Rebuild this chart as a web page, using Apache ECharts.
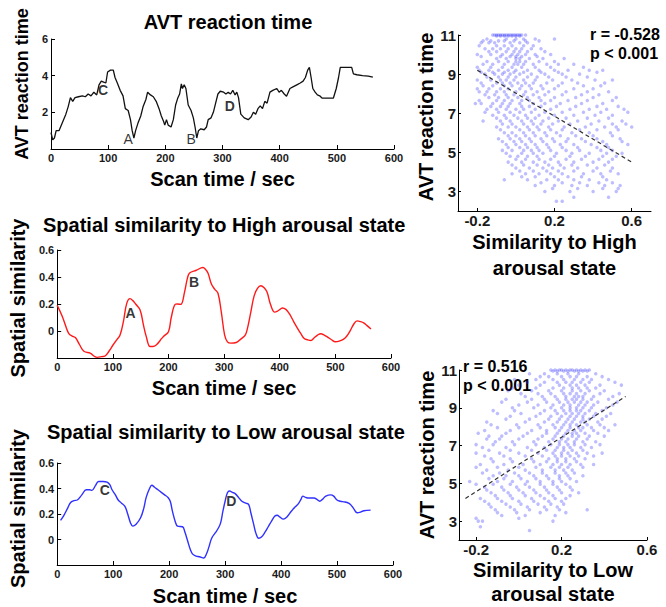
<!DOCTYPE html>
<html><head><meta charset="utf-8">
<script src="https://cdn.jsdelivr.net/npm/echarts@6/dist/echarts.min.js"></script>
<style>html,body{margin:0;padding:0;background:#fff}#c{width:666px;height:607px}</style>
</head><body><div id="c"></div>
<script>
// ---------- data ----------
const avtT = [0,3,6,9,14,18,22,26,30,34,38,42,48,55,60,65,70,75,80,84,88,92,96,99,104,109,112,116,121,126,130,135,139,142,145,148,152,157,161,166,169,174,179,184,189,193,197,199,202,205,210,214,218,222,225,228,230,233,236,240,245,249,252,255,258,262,268,272,275,280,284,288,292,296,302,306,310,314,318,322,325,328,332,338,345,350,354,358,362,366,370,374,378,383,388,395,399,403,408,412,418,424,430,436,441,445,449,452,455,458,462,466,470,474,480,494,499,503,506,526,529,535,545,555,563];
const avtV = [0.9,0.5,0.6,1.0,1.0,1.3,1.6,1.9,2.3,2.8,2.6,2.8,2.85,2.9,2.85,3.0,2.9,3.1,2.95,3.5,3.7,3.65,3.6,4.2,4.3,4.3,3.9,3.6,3.2,2.9,2.2,2.1,1.6,1.0,0.6,1.0,1.4,1.8,2.3,2.7,3.1,2.95,2.85,2.6,2.2,1.8,1.5,1.3,1.6,1.3,1.2,1.6,2.4,2.8,3.0,3.55,3.3,3.5,3.3,2.4,2.1,1.7,1.2,0.6,1.0,1.1,1.05,1.2,1.6,1.7,2.0,2.5,3.0,3.15,3.1,3.0,3.1,3.0,3.2,2.95,3.1,2.8,1.9,1.7,1.6,1.75,2.0,1.9,2.2,2.35,2.2,2.6,2.5,3.1,3.2,3.3,3.1,3.2,3.0,2.88,3.3,3.4,3.5,3.6,3.7,3.9,4.3,4.45,3.9,3.3,3.1,2.95,2.9,2.78,2.78,2.78,3.3,3.9,4.45,4.45,4.1,4.05,4.0,3.98,3.92];

const highT = [0,9,15,21,28,33,40,48,60,66,72,80,86,93,101,108,113,119,125,131,136,141,149,155,160,167,172,179,185,191,200,205,212,216,222,229,234,238,250,262,266,271,277,283,289,295,301,306,312,322,330,338,342,348,354,360,366,372,377,384,391,397,405,411,417,425,432,438,444,450,456,462,468,474,480,486,493,500,507,515,521,527,533,539,545,551,557,564];
const highV = [0.19,0.11,0.04,-0.02,-0.04,-0.05,-0.1,-0.15,-0.165,-0.185,-0.195,-0.19,-0.185,-0.15,-0.10,-0.06,-0.03,0.07,0.205,0.24,0.225,0.2,0.155,0.045,-0.04,-0.115,-0.115,-0.10,-0.07,-0.04,-0.005,0.1,0.197,0.2,0.197,0.29,0.39,0.43,0.45,0.47,0.46,0.43,0.35,0.31,0.28,0.14,-0.03,-0.08,-0.09,-0.085,-0.06,-0.03,0.02,0.14,0.26,0.315,0.335,0.32,0.29,0.19,0.14,0.15,0.17,0.16,0.13,0.07,0.02,-0.02,-0.055,-0.065,-0.07,-0.05,-0.03,-0.02,-0.03,-0.045,-0.065,-0.08,-0.075,-0.06,-0.035,0.005,0.05,0.075,0.07,0.06,0.04,0.015];

const lowT = [6,12,18,24,30,36,44,52,58,62,68,74,82,89,94,98,104,109,115,121,126,131,135,141,149,155,159,165,169,174,180,186,192,198,202,206,211,215,224,228,233,238,242,248,254,262,267,271,276,283,288,292,296,300,304,308,313,318,324,330,337,342,346,351,355,360,365,371,377,383,389,393,398,404,410,418,425,430,435,439,444,450,459,464,469,474,480,489,494,500,506,512,518,524,530,536,542,548,560];
const lowV = [0.15,0.19,0.24,0.29,0.305,0.31,0.35,0.39,0.39,0.385,0.42,0.455,0.455,0.45,0.43,0.39,0.35,0.31,0.285,0.26,0.2,0.13,0.105,0.12,0.17,0.25,0.33,0.4,0.425,0.41,0.39,0.37,0.35,0.33,0.3,0.22,0.14,0.105,0.10,0.06,-0.01,-0.08,-0.115,-0.13,-0.135,-0.145,-0.11,-0.06,0.01,0.055,0.09,0.13,0.22,0.3,0.365,0.38,0.37,0.36,0.33,0.3,0.285,0.275,0.21,0.12,0.05,0.01,0.02,0.055,0.1,0.145,0.185,0.19,0.175,0.16,0.175,0.22,0.255,0.275,0.31,0.34,0.33,0.325,0.325,0.315,0.3,0.315,0.34,0.35,0.34,0.31,0.3,0.295,0.29,0.275,0.24,0.21,0.215,0.225,0.23];

const avtLetters = [['C',91,3.2],['A',135,0.55],['B',245,0.55],['D',313,2.35]];
const highLetters = [['A',132,0.135],['B',246,0.365]];
const lowLetters = [['C',85,0.39],['D',311,0.3]];

// scatter: reaction time rows (y) with similarity values (x) along each row
const scHighY = [11.0,10.95,10.8,10.7,10.6,10.45,10.3,10.15,10.0,9.9,9.8,9.65,9.5,9.35,9.2,9.1,9.0,8.85,8.7,8.55,8.4,8.25,8.1,7.95,7.8,7.65,7.5,7.35,7.2,7.05,6.9,6.75,6.6,6.45,6.3,6.15,6.0,5.85,5.7,5.55,5.4,5.25,5.1,4.95,4.8,4.65,4.5,4.35,4.2,4.05,3.9,3.75,3.6,3.45,3.3,3.15,3.0,2.7,2.5];
const scHighX = [
 [-0.12,-0.11,-0.1,-0.09,-0.08,-0.07,-0.06,-0.05,-0.04,-0.03,-0.02,-0.01,0.0,0.01,0.02,0.03,0.05],
 [-0.1,-0.08,-0.06,-0.04,-0.02,0.0,0.02],
 [-0.15,-0.05,0.0,0.04,0.1,0.2],
 [-0.17,-0.13,-0.09,-0.06,-0.01,0.05,0.12],
 [-0.18,-0.14,-0.11,-0.03,0.02,0.06],
 [-0.19,-0.1,-0.06,-0.02,0.04,0.09],
 [-0.16,-0.12,-0.08,-0.04,0.0,0.03,0.08,0.13],
 [-0.14,-0.1,-0.05,-0.01,0.02,0.06,0.15],
 [-0.2,-0.13,-0.07,-0.02,0.01,0.05,0.1,0.18],
 [-0.18,-0.08,-0.03,0.0,0.03,0.11],
 [-0.1,-0.05,0.0,0.02,0.07,0.14,0.25],
 [-0.15,-0.09,-0.04,0.0,0.02,0.05,0.12,0.2],
 [-0.17,-0.12,-0.06,-0.01,0.01,0.04,0.09,0.16,0.22,0.3],
 [-0.2,-0.13,-0.07,-0.02,0.03,0.1,0.18,0.35],
 [-0.19,-0.14,-0.09,-0.04,0.0,0.06,0.12,0.2,0.27,0.38,0.45],
 [-0.18,-0.12,-0.06,-0.01,0.04,0.13,0.22,0.42],
 [-0.16,-0.11,-0.07,-0.03,0.02,0.08,0.15,0.24,0.33],
 [-0.15,-0.09,-0.04,0.0,0.06,0.11,0.17,0.26,0.37],
 [-0.2,-0.13,-0.08,-0.05,-0.01,0.04,0.1,0.19,0.29,0.41,0.5],
 [-0.18,-0.1,-0.07,-0.03,0.01,0.05,0.09,0.16,0.24,0.32,0.46],
 [-0.17,-0.12,-0.06,-0.02,0.03,0.07,0.13,0.22,0.35,0.44],
 [-0.2,-0.14,-0.08,-0.04,0.02,0.08,0.14,0.2,0.3,0.4],
 [-0.19,-0.15,-0.1,-0.06,0.0,0.05,0.11,0.17,0.26,0.37,0.48],
 [-0.16,-0.11,-0.05,-0.01,0.04,0.09,0.15,0.24,0.34,0.43],
 [-0.14,-0.09,-0.04,0.01,0.06,0.12,0.2,0.31,0.4,0.52],
 [-0.19,-0.1,-0.06,-0.02,0.03,0.07,0.13,0.18,0.27,0.37,0.5],
 [-0.21,-0.18,-0.12,-0.07,-0.03,0.02,0.09,0.15,0.23,0.34,0.45],
 [-0.13,-0.08,-0.04,0.03,0.07,0.13,0.21,0.31,0.42,0.53],
 [-0.15,-0.1,-0.05,0.0,0.04,0.1,0.18,0.28,0.38,0.47,0.56],
 [-0.16,-0.09,-0.03,0.02,0.08,0.15,0.24,0.35,0.44,0.58],
 [-0.12,-0.06,-0.01,0.05,0.12,0.2,0.3,0.41,0.5],
 [-0.1,-0.05,0.01,0.06,0.1,0.17,0.26,0.37,0.48],
 [-0.17,-0.08,-0.03,0.03,0.08,0.14,0.22,0.32,0.43,0.55],
 [-0.07,-0.02,0.04,0.09,0.13,0.19,0.28,0.39,0.5,0.57],
 [-0.1,-0.04,0.0,0.06,0.11,0.17,0.25,0.36,0.46,0.52,0.6],
 [-0.08,0.02,0.07,0.12,0.18,0.24,0.33,0.42,0.53],
 [-0.06,-0.02,0.04,0.09,0.15,0.21,0.29,0.38,0.49],
 [-0.04,0.0,0.05,0.1,0.16,0.23,0.31,0.4,0.5],
 [-0.09,-0.03,0.02,0.07,0.13,0.19,0.27,0.34,0.42,0.54],
 [-0.07,-0.01,0.03,0.08,0.14,0.2,0.26,0.36,0.45,0.55],
 [-0.05,0.0,0.05,0.1,0.16,0.23,0.3,0.39,0.47,0.58],
 [-0.04,0.02,0.06,0.11,0.17,0.24,0.32,0.42,0.48],
 [-0.07,-0.02,0.04,0.08,0.12,0.18,0.26,0.33,0.44,0.5],
 [-0.05,0.03,0.09,0.14,0.21,0.29,0.38,0.47,0.55],
 [-0.03,0.01,0.06,0.11,0.2,0.28,0.36,0.45,0.52],
 [0.0,0.05,0.12,0.18,0.26,0.34,0.43,0.5],
 [-0.04,0.03,0.09,0.15,0.22,0.3,0.4,0.48],
 [-0.02,0.04,0.11,0.17,0.23,0.29,0.37,0.46],
 [0.0,0.07,0.14,0.19,0.25,0.32,0.42,0.5],
 [0.02,0.09,0.16,0.22,0.3,0.4,0.49],
 [-0.02,0.05,0.12,0.18,0.24,0.35,0.44,0.53],
 [0.03,0.1,0.2,0.27,0.34,0.45],
 [-0.06,0.06,0.16,0.22,0.3,0.38,0.47],
 [0.13,0.24,0.33,0.43,0.5],
 [0.1,0.2,0.29,0.37,0.46,0.54],
 [0.19,0.32,0.45,0.53],
 [0.15,0.28,0.4,0.52],
 [0.3,0.48],
 [0.21,0.24]
];
const scLowY = [11.0,10.95,10.8,10.65,10.5,10.35,10.2,10.05,9.9,9.75,9.6,9.45,9.3,9.15,9.0,8.85,8.7,8.55,8.4,8.25,8.1,7.95,7.8,7.65,7.5,7.35,7.2,7.05,6.9,6.75,6.6,6.45,6.3,6.15,6.0,5.85,5.7,5.55,5.4,5.25,5.1,4.95,4.8,4.65,4.5,4.35,4.2,4.05,3.9,3.75,3.6,3.45,3.3,3.15,3.0,2.7,2.5];
const scLowX = [
 [0.15,0.17,0.19,0.2,0.22,0.24,0.25,0.27,0.29,0.31,0.33],
 [0.16,0.18,0.21,0.23,0.26,0.28,0.3,0.32],
 [0.05,0.12,0.18,0.23,0.28,0.36],
 [0.1,0.14,0.2,0.24,0.27,0.32,0.39],
 [-0.02,0.08,0.16,0.21,0.26,0.3,0.34,0.42],
 [0.04,0.12,0.18,0.22,0.25,0.29,0.33,0.45],
 [0.0,0.1,0.19,0.24,0.27,0.31,0.38,0.48],
 [-0.03,0.08,0.16,0.21,0.25,0.28,0.32,0.36],
 [-0.05,0.06,0.14,0.2,0.25,0.29,0.33,0.4],
 [0.01,0.09,0.15,0.21,0.24,0.27,0.31,0.38,0.47],
 [0.03,0.11,0.17,0.22,0.26,0.28,0.3,0.35,0.44],
 [-0.06,0.06,0.12,0.18,0.22,0.25,0.27,0.3,0.34,0.42],
 [-0.08,0.04,0.13,0.19,0.23,0.26,0.29,0.32,0.37,0.46],
 [0.0,0.09,0.16,0.21,0.24,0.28,0.31,0.35,0.44],
 [-0.03,0.07,0.15,0.2,0.24,0.27,0.3,0.34,0.41],
 [-0.12,-0.02,0.12,0.17,0.21,0.24,0.27,0.29,0.33,0.39],
 [-0.1,0.01,0.1,0.18,0.22,0.25,0.28,0.31,0.36,0.43],
 [-0.04,0.08,0.15,0.2,0.24,0.27,0.3,0.35,0.41],
 [-0.06,0.05,0.14,0.19,0.23,0.26,0.3,0.33,0.39],
 [-0.15,0.03,0.12,0.18,0.22,0.25,0.29,0.31,0.37],
 [-0.13,-0.01,0.09,0.16,0.21,0.24,0.27,0.32,0.38,0.45],
 [-0.1,0.0,0.1,0.17,0.2,0.24,0.28,0.3,0.34,0.4],
 [-0.16,-0.04,0.06,0.13,0.19,0.23,0.26,0.29,0.35,0.42],
 [-0.19,-0.06,0.04,0.13,0.18,0.22,0.25,0.27,0.31,0.37],
 [-0.14,-0.08,0.02,0.11,0.17,0.21,0.25,0.28,0.33,0.4],
 [-0.15,-0.09,0.0,0.09,0.16,0.2,0.23,0.27,0.32],
 [-0.11,-0.03,0.07,0.14,0.19,0.22,0.26,0.3,0.36],
 [-0.2,-0.12,-0.02,0.08,0.15,0.19,0.23,0.26,0.31,0.38],
 [-0.17,-0.06,0.04,0.12,0.18,0.21,0.24,0.29,0.34],
 [-0.14,-0.04,0.06,0.13,0.17,0.21,0.25,0.3],
 [-0.2,-0.09,0.0,0.09,0.16,0.2,0.23,0.27,0.32,0.39],
 [-0.16,-0.07,0.03,0.11,0.17,0.2,0.24,0.28,0.35],
 [-0.13,-0.04,0.06,0.14,0.18,0.22,0.26,0.31],
 [-0.12,-0.03,0.07,0.13,0.18,0.22,0.27],
 [-0.18,-0.07,0.02,0.1,0.16,0.2,0.24,0.29,0.35],
 [-0.2,-0.1,0.0,0.08,0.15,0.19,0.23,0.3],
 [-0.15,-0.05,0.03,0.11,0.17,0.21,0.25],
 [-0.17,-0.09,-0.02,0.05,0.11,0.17,0.22,0.26],
 [-0.12,-0.06,0.0,0.07,0.13,0.19,0.23,0.3],
 [-0.14,-0.07,0.01,0.08,0.14,0.19,0.24],
 [-0.23,-0.1,-0.03,0.04,0.1,0.16,0.2,0.27],
 [-0.2,-0.12,-0.04,0.03,0.1,0.16,0.22],
 [-0.16,-0.08,-0.01,0.05,0.12,0.18,0.24],
 [-0.15,-0.07,0.0,0.07,0.13,0.19,0.25],
 [-0.13,-0.05,0.02,0.08,0.14,0.2,0.28],
 [-0.11,-0.04,0.03,0.1,0.16,0.24],
 [-0.18,-0.1,-0.03,0.06,0.12,0.17,0.22],
 [-0.16,-0.08,0.0,0.07,0.14,0.2],
 [-0.14,-0.06,0.01,0.09,0.15,0.21],
 [-0.13,-0.04,0.04,0.12,0.18],
 [-0.11,-0.02,0.05,0.13,0.19,0.32],
 [-0.1,-0.01,0.1,0.22],
 [-0.08,0.03,0.17],
 [-0.2,0.0],
 [-0.19,-0.17,0.16],
 [-0.18],
 [0.05]
];
const fitHigh = [[-0.2,9.2],[0.6,4.5]];
const fitLow = [[-0.25,4.2],[0.5,9.6]];
const statHigh = ['r = -0.528','p < 0.001'];
const statLow = ['r = 0.516','p < 0.001'];
const timeTicks = [0,100,200,300,400,500,600];
const avtTicks = [2,4,6];
const simTicks = [0,0.2,0.4,0.6];
const rtTicks = [3,5,7,9,11];
const scXTicks = [-0.2,0.2,0.6];

// ---------- build ----------
const FF = '"Liberation Sans", Arial, sans-serif';
const zip = (a,b) => a.map((v,i)=>[v,b[i]]);
const rows = (ys,xs) => { const out=[]; ys.forEach((y,i)=>xs[i].forEach(x=>out.push([x,y]))); return out; };

const lblStyle = (fs) => ({fontFamily:FF,fontWeight:'bold',fontSize:fs,color:'#1a1a1a'});
function baseAxis(o){
  return Object.assign({
    type:'value', splitLine:{show:false},
    axisLine:{show:true,onZero:false,lineStyle:{color:'#000',width:1}},
    nameTextStyle:{fontFamily:FF,fontWeight:'bold',fontSize:20,color:'#000'},
    nameLocation:'middle'
  }, o);
}
function tsX(g,gap){
  return baseAxis({gridIndex:g,min:0,max:600,name:'Scan time / sec',nameGap:gap,
    axisTick:{show:true,inside:true,length:4,customValues:timeTicks,lineStyle:{color:'#000'}},
    axisLabel:Object.assign({margin:3,customValues:timeTicks},lblStyle(11))});
}
function tsY(g,min,max,ticks,name,fs,gap,shift){
  return baseAxis({gridIndex:g,min,max,name,nameGap:gap,
    nameTextStyle:{fontFamily:FF,fontWeight:'bold',fontSize:fs,color:'#000',padding:[0,0,0,shift]},
    axisTick:{show:true,inside:true,length:4,customValues:ticks,lineStyle:{color:'#000'}},
    axisLabel:Object.assign({margin:3,customValues:ticks},lblStyle(11))});
}
function scX(g,min,max,name,gap,lh){
  return baseAxis({gridIndex:g,min,max,name,nameGap:gap,
    nameTextStyle:{fontFamily:FF,fontWeight:'bold',fontSize:20,color:'#000',lineHeight:lh},
    axisTick:{show:true,inside:true,length:3,customValues:scXTicks,lineStyle:{color:'#000'}},
    axisLabel:Object.assign({margin:2,customValues:scXTicks},lblStyle(15))});
}
function scY(g,gap,shift){
  return baseAxis({gridIndex:g,min:2,max:11,name:'AVT reaction time',nameGap:gap,
    nameTextStyle:{fontFamily:FF,fontWeight:'bold',fontSize:20,color:'#000',padding:[0,0,0,shift]},
    axisTick:{show:true,inside:true,length:3,customValues:rtTicks,lineStyle:{color:'#000'}},
    axisLabel:Object.assign({margin:2,customValues:rtTicks},lblStyle(15))});
}
function letters(arr,g,normalSet){
  return {type:'scatter',xAxisIndex:g,yAxisIndex:g,symbolSize:2,itemStyle:{color:'rgba(0,0,0,0)'},silent:true,z:5,
    data:arr.map(a=>({value:[a[1],a[2]],name:a[0],
      label:{show:true,position:'inside',formatter:a[0],fontFamily:FF,fontSize:14,color:'#000',
        textBorderWidth:0,textBorderColor:'transparent',
        fontWeight:(normalSet&&normalSet.includes(a[0]))?'normal':'bold'}}))};
}
function textG(text,x,y,fs,align){
  return {type:'text',x,y,silent:true,
    style:{text,fill:'#000',font:'bold '+fs+'px '+FF,align:align||'center',verticalAlign:'middle',
      textAlign:align||'center',textVerticalAlign:'middle'}};
}

const option = {
  animation:false,
  backgroundColor:'#fff',
  grid:[
    {left:51,top:39,width:343,height:110},
    {left:55,top:250,width:336,height:108},
    {left:53,top:463,width:340,height:103},
    {left:458,top:35,width:193,height:176},
    {left:459,top:370,width:188,height:170}
  ],
  xAxis:[
    tsX(0,20), tsX(1,20), tsX(2,21),
    scX(3,-0.3,0.7,'Similarity to High\narousal state',10,26),
    scX(4,-0.28,0.6,'Similarity to Low\narousal state',13,24)
  ],
  yAxis:[
    tsY(0,0,6,avtTicks,'AVT reaction time',18,19,20),
    tsY(1,-0.2,0.6,simTicks,'Spatial similarity',20,23,12),
    tsY(2,-0.2,0.6,simTicks,'Spatial similarity',20,23,11),
    scY(3,6,12),
    scY(4,5,0)
  ],
  graphic:[
    textG('AVT reaction time',228,22,20),
    textG('Spatial similarity to High arousal state',43,225,20,'left'),
    textG('Spatial similarity to Low arousal state',47,432,20,'left'),
    textG(statHigh[0],590,34,16,'left'),
    textG(statHigh[1],590,53,16,'left'),
    textG(statLow[0],463,366,16,'left'),
    textG(statLow[1],463,385,16,'left')
  ],
  series:[
    {type:'line',xAxisIndex:0,yAxisIndex:0,data:zip(avtT,avtV),showSymbol:false,symbol:'none',
      lineStyle:{color:'#111',width:1.3}},
    {type:'line',xAxisIndex:1,yAxisIndex:1,data:zip(highT,highV),showSymbol:false,symbol:'none',smooth:0.4,
      lineStyle:{color:'#ff1a1a',width:1.4}},
    {type:'line',xAxisIndex:2,yAxisIndex:2,data:zip(lowT,lowV),showSymbol:false,symbol:'none',smooth:0.4,
      lineStyle:{color:'#3030ff',width:1.4}},
    {type:'scatter',xAxisIndex:3,yAxisIndex:3,data:rows(scHighY,scHighX),symbolSize:3.5,silent:true,
      itemStyle:{color:'rgba(50,50,255,0.4)'}},
    {type:'scatter',xAxisIndex:4,yAxisIndex:4,data:rows(scLowY,scLowX),symbolSize:3.5,silent:true,
      itemStyle:{color:'rgba(50,50,255,0.4)'}},
    {type:'line',xAxisIndex:3,yAxisIndex:3,data:fitHigh,symbol:'none',z:4,
      lineStyle:{color:'#333',width:1.2,type:[4,3]}},
    {type:'line',xAxisIndex:4,yAxisIndex:4,data:fitLow,symbol:'none',z:4,
      lineStyle:{color:'#333',width:1.2,type:[4,3]}},
    letters(avtLetters,0,['A','B']),
    letters(highLetters,1),
    letters(lowLetters,2)
  ]
};
const chart = echarts.init(document.getElementById('c'),null,{renderer:'svg'});
chart.setOption(option);
</script></body></html>
